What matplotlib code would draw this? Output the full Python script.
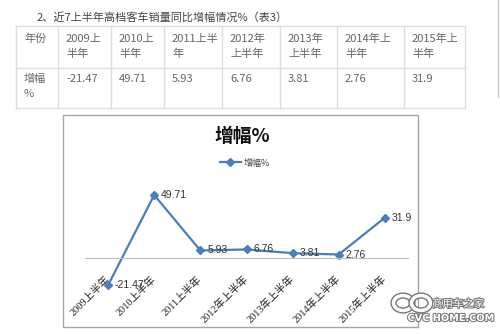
import matplotlib
matplotlib.use('Agg')
import matplotlib.pyplot as plt
import matplotlib.patheffects as pe
from matplotlib.patches import Rectangle, Ellipse

plt.rcParams['font.family'] = ['Noto Sans CJK SC', 'DejaVu Sans']

# data
categories = ['2009上半年', '2010上半年', '2011上半年', '2012年上半年',
              '2013年上半年', '2014年上半年', '2015年上半年']
values = [-21.47, 49.71, 5.93, 6.76, 3.81, 2.76, 31.9]
table_headers = ['年份', '2009上\n半年', '2010上\n半年', '2011上半\n年', '2012年\n上半年',
                 '2013年\n上半年', '2014年上\n半年', '2015年上\n半年']
row_label = '增幅\n%'
series_name = '增幅%'
heading = '2、近7上半年高档客车销量同比增幅情况%（表3）'

W, H = 500, 334
fig = plt.figure(figsize=(W / 100, H / 100), dpi=100)

# page layer in pixel coordinates
page = fig.add_axes([0, 0, 1, 1])
page.set_xlim(0, W)
page.set_ylim(H, 0)
page.axis('off')

page.text(37, 17, heading, fontsize=8, color='#444444', va='center', ha='left')

# table
col_edges = [16, 58, 111, 164, 222, 280, 337, 404, 465]
row_edges = [26, 68, 108]
grid = '#dddddd'
for y in row_edges:
    page.plot([col_edges[0], col_edges[-1]], [y, y], color=grid, lw=1)
for x in col_edges:
    page.plot([x, x], [row_edges[0], row_edges[-1]], color=grid, lw=1)
row_cells = [row_label] + [f'{v:g}' for v in values]
for j in range(len(table_headers)):
    page.text(col_edges[j] + 8, row_edges[0] + 8, table_headers[j], fontsize=8,
              color='#666666', va='top', ha='left', linespacing=1.55)
    page.text(col_edges[j] + 8, row_edges[1] + 6, row_cells[j], fontsize=8,
              color='#666666', va='top', ha='left', linespacing=1.55)
page.plot([498, 498], [0, 97], color='#cccccc', lw=1)

# chart frame
page.add_patch(Rectangle((63, 115), 355, 212, fill=False, edgecolor='#a6a6a6', lw=1))
page.text(242, 136, series_name, fontsize=13.5, fontweight='bold', color='#111111',
          ha='center', va='center')

# line chart
ax = fig.add_axes([85 / W, 38 / H, 323 / W, 114 / H])
ax.patch.set_alpha(0)
x = list(range(len(categories)))
line_color = '#4a7ebb'
ax.plot(x, values, color=line_color, lw=1.6, marker='D', markersize=4,
        label=series_name)
ax.set_xlim(-0.5, len(categories) - 0.5)
ax.set_ylim(-30, 60)
for s in ['top', 'right', 'left']:
    ax.spines[s].set_visible(False)
ax.spines['bottom'].set_position(('data', 0))
ax.spines['bottom'].set_color('#c0c0c0')
ax.set_yticks([])
ax.set_xticks(x)
ax.set_xticklabels(categories, rotation=45, ha='right', va='center',
                   rotation_mode='anchor', fontsize=7.5, color='#222222',
                   family=['Liberation Serif', 'Noto Sans CJK SC'])
ax.tick_params(axis='x', length=0, pad=14)
for i, v in zip(x, values):
    ax.annotate(f'{v:g}', (i, v), xytext=(5, 0), textcoords='offset points',
                va='center', ha='left', fontsize=7.5, color='#333333',
                family=['Liberation Sans'])
ax.legend(loc='center', bbox_to_anchor=(245 / W, 1 - 163 / H),
          bbox_transform=fig.transFigure, frameon=False, fontsize=6.5,
          handlelength=2.4, handletextpad=0.3, labelcolor='#444444')

# watermark
ring = [pe.withStroke(linewidth=4.5, foreground='#777777')]
stroke = [pe.withStroke(linewidth=1.5, foreground='#777777')]
page.add_patch(Ellipse((403, 303), 19, 15, fill=False, edgecolor='white', lw=2.5,
                       path_effects=ring, zorder=5))
page.add_patch(Ellipse((421, 303), 19, 15, fill=False, edgecolor='white', lw=2.5,
                       path_effects=ring, zorder=5))
page.text(458, 304, '商用车之家', fontsize=7.5, color='white', ha='center',
          va='center', path_effects=stroke, zorder=6)
page.text(451, 318, 'CVC HOME.COM', fontsize=7, fontweight='bold', color='white',
          ha='center', va='center', family=['DejaVu Sans'], path_effects=stroke,
          zorder=6)

fig.savefig('out.png', dpi=100)
